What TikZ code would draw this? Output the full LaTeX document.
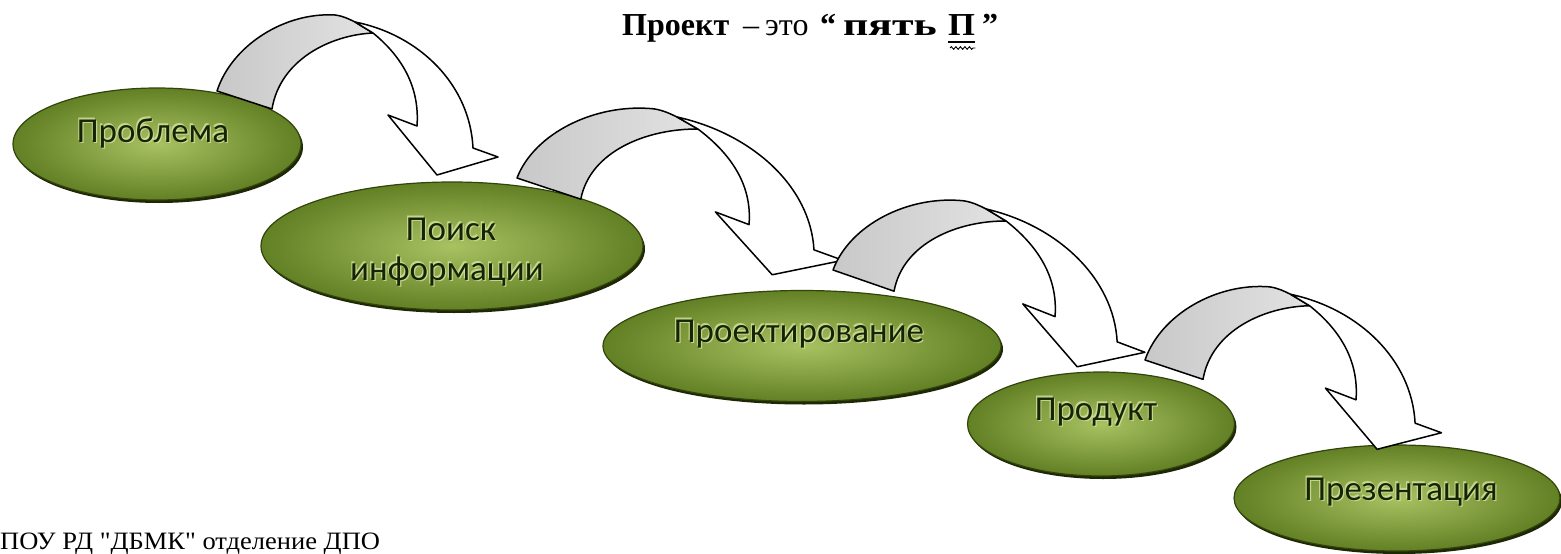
\documentclass[tikz,border=0pt]{standalone}
\usepackage{fontspec}
\setmainfont{Liberation Serif}
\newfontfamily\calib{Carlito}
\newfontfamily\footfont{Liberation Serif}[Ligatures=TeXOff]
\usetikzlibrary{shapes.geometric,decorations.pathmorphing,calc}
\definecolor{ovallight}{RGB}{168,194,98}
\definecolor{ovaldark}{RGB}{98,128,36}
\definecolor{ovalline}{RGB}{50,68,12}
\definecolor{ovalshadow}{RGB}{30,40,6}
\definecolor{ovaltext}{RGB}{22,36,4}
\definecolor{glowcol}{RGB}{212,228,160}
\definecolor{arrowgray}{RGB}{200,200,200}
\definecolor{arrowgraylight}{RGB}{226,226,226}
\tikzset{
  oval/.style={ellipse, inner sep=0pt, draw=ovalline, line width=1.2pt,
    inner color=ovallight, outer color=ovaldark,
    preaction={fill=ovalshadow, transform canvas={xshift=2pt,yshift=-3pt}}},
  ovaltxt/.style={font=\calib\fontsize{35}{42}\selectfont, text=ovaltext, inner sep=0pt, anchor=base},
  glowtxt/.style={ovaltxt, text=glowcol, opacity=0.8},
  ttl/.style={font=\fontsize{32}{38}\selectfont, anchor=base west, inner sep=0pt},
  arrowback/.style={draw=black, line width=1.5pt, line join=round, left color=arrowgray, right color=arrowgraylight},
  arrowfront/.style={draw=black, line width=1.5pt, line join=round, fill=white},
  curvearrow/.pic={
    \path[arrowback] (0,0) .. controls (15,-46) and (68,-79) .. (118,-76)
       .. controls (126,-75) and (132,-72) .. (138,-69) -- (156,-58)
       .. controls (113,-56) and (63,-31) .. (55,18) -- cycle;
    \path[arrowfront] (138,-69) .. controls (203,-56) and (253,-6) .. (256,57)
       -- (281,66) -- (220,84) -- (171,24) -- (200,35)
       .. controls (203,-6) and (183,-36) .. (156,-58) -- cycle;
  }
}
\newcommand{\ovallabel}[3]{%
  \node[glowtxt] (#1g1) at ($(#2)+(1.2,1.2)$) {#3};
  \node[glowtxt] (#1g2) at ($(#2)+(-1.2,-1.2)$) {#3};
  \node[ovaltxt] (#1) at (#2) {#3};
}
\begin{document}
\begin{tikzpicture}[x=1pt,y=-1pt]
\useasboundingbox (0,0) rectangle (1561,554);
% title
\node[ttl] (ttl1) at (622,35) {\textbf{Проект}};
\node[ttl] (ttl2) at (743,35) {–};
\node[ttl] (ttl3) at (765,35) {это};
\node[ttl] (ttl4) at (820,35) {\textbf{“}};
\node[ttl] (ttl5) at (843,35) {\scalebox{1.37}[1]{\textbf{пять}}};
\node[ttl] (ttl6) at (948,35) {\scalebox{1.08}[1]{\textbf{П}}};
\node[ttl] (ttl7) at (982,35) {\textbf{”}};
\draw[line width=1.4pt] ([yshift=-7pt]ttl6.base west) -- ([yshift=-7pt]ttl6.base east);
\draw[line width=0.9pt, decorate, decoration={snake, amplitude=1.3pt, segment length=4.5pt}]
  ([yshift=-13pt,xshift=2pt]ttl6.base west) -- ([yshift=-13pt]ttl6.base east);
% ovals
\node[oval, minimum width=288pt, minimum height=112pt] (e1) at (157,144) {};
\node[oval, minimum width=382pt, minimum height=128pt] (e2) at (452,246) {};
\node[oval, minimum width=398pt, minimum height=111pt] (e3) at (802,346) {};
\node[oval, minimum width=267pt, minimum height=104pt] (e4) at (1101,424) {};
\node[oval, minimum width=326pt, minimum height=106pt] (e5) at (1397,498) {};
% arrows
\pic at (217,91) {curvearrow};
\pic[cm={1.16,-0.058,0,1,(517,178)}] {curvearrow};
\pic[cm={1.11,-0.058,0,1,(833,270)}] {curvearrow};
\pic[cm={1.055,-0.024,0,1,(1145,360)}] {curvearrow};
% labels
\coordinate (p1) at (153,142);
\coordinate (p2a) at (451,240);
\coordinate (p2b) at (447,280);
\coordinate (p3) at (799,342);
\coordinate (p4) at (1096,420);
\coordinate (p5) at (1401,500);
\ovallabel{t1}{p1}{Проблема}
\ovallabel{t2a}{p2a}{Поиск}
\ovallabel{t2b}{p2b}{информации}
\ovallabel{t3}{p3}{Проектирование}
\ovallabel{t4}{p4}{Продукт}
\ovallabel{t5}{p5}{Презентация}
% footer
\node[font=\footfont\fontsize{25}{29}\selectfont, anchor=base west, inner sep=0pt] (footer) at (0,549)
  {\scalebox{1.06}[1]{ПОУ РД "ДБМК" отделение ДПО}};
\end{tikzpicture}
\end{document}
